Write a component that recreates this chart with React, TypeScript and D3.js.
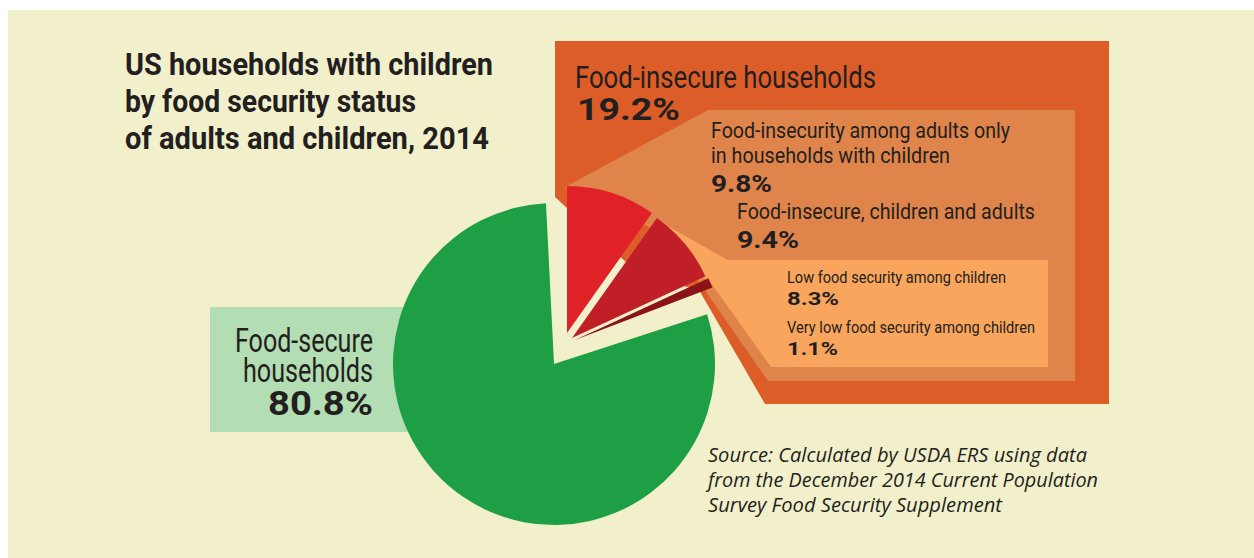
import React from 'react';
import * as d3 from 'd3';

// ---- Data ----
const sliceLabels = [
  'Food-insecurity among adults only',
  'Low food security among children',
  'Very low food security among children',
  'Food-secure households',
];
const sliceValues = [9.8, 8.3, 1.1, 80.8];
const sliceColors = ['#E02128', '#C11F27', '#8C1317', '#1E9E45'];

const titleLines = ['US households with children', 'by food security status', 'of adults and children, 2014'];
const sourceLines = [
  'Source: Calculated by USDA ERS using data',
  'from the December 2014 Current Population',
  'Survey Food Security Supplement',
];
const insecureTotal = '19.2%';
const childAdultTotal = '9.4%';

const fmt = (v: number) => `${v.toFixed(1)}%`;

// ---- Layout ----
const W = 1254;
const H = 558;
const CX = 554;
const CY = 364;
const R_SECURE = 161;
const R_INSECURE = 147;
const explode: [number, number][] = [
  [13, -31],
  [18, -26],
  [21, -24],
  [0, 0],
];

const COND = "'Liberation Sans Narrow', Roboto, 'DejaVu Sans', sans-serif";
const TEXT = '#231F20';

type TP = {
  x: number; y: number; w: number; size: number; weight?: number; italic?: boolean;
  family?: string; children: React.ReactNode;
};
const T = ({ x, y, w, size, weight = 400, italic = false, family = COND, children }: TP) => (
  <text
    x={x}
    y={y}
    textLength={w}
    lengthAdjust="spacingAndGlyphs"
    fontSize={size}
    fontWeight={weight}
    fontStyle={italic ? 'italic' : 'normal'}
    fontFamily={family}
    fill={TEXT}
  >
    {children}
  </text>
);

const poly = (pts: [number, number][]) => pts.map((p) => p.join(',')).join(' ');

export default function App() {
  const pie = d3
    .pie<number>()
    .sort(null)
    .startAngle(0)
    .endAngle(2 * Math.PI)
    .value((d) => d);
  const arcs = pie(sliceValues);
  const arcInsecure = d3.arc<d3.PieArcDatum<number>>().innerRadius(0).outerRadius(R_INSECURE);
  const arcSecure = d3
    .arc<d3.PieArcDatum<number>>()
    .innerRadius(0)
    .outerRadius(R_SECURE)
    .padAngle(0.1);

  const darkPts: [number, number][] = [
    [555, 41], [1109, 41], [1109, 404], [765, 404], [699, 290], [640, 275], [555, 197],
  ];
  const medPts: [number, number][] = [
    [708, 110], [1075, 110], [1075, 381], [768, 381], [702, 286], [655, 230], [565, 187],
  ];
  const lightPts: [number, number][] = [
    [728, 260], [1048, 260], [1048, 367], [771, 367], [711, 283], [670, 250], [655, 219],
  ];

  return (
    <svg
      width={W}
      height={H}
      viewBox={`0 0 ${W} ${H}`}
      style={{ position: 'absolute', left: 0, top: 0, background: '#ffffff' }}
    >
      <rect x={8} y={10} width={W - 8} height={H - 10} fill="#F1F0CB" />

      <polygon points={poly(darkPts)} fill="#DC5D27" />
      <polygon points={poly(medPts)} fill="#DF844A" />
      <polygon points={poly(lightPts)} fill="#F9A55D" />

      <rect x={210} y={307} width={220} height={125} fill="#B3DDB2" />

      {arcs.map((a, i) => {
        const isSecure = i === sliceValues.length - 1;
        const path = isSecure ? arcSecure(a) : arcInsecure(a);
        return (
          <path
            key={sliceLabels[i]}
            d={path || ''}
            fill={sliceColors[i]}
            transform={`translate(${CX + explode[i][0]},${CY + explode[i][1]})`}
          />
        );
      })}

      {titleLines.map((t, i) => (
        <T key={t} x={125} y={75 + i * 37} w={[368, 291, 364][i]} size={32} weight={700}>
          {t}
        </T>
      ))}

      <T x={575} y={88} w={301} size={31}>Food-insecure households</T>
      <T x={577} y={120} w={103} size={32} weight={700}>{insecureTotal}</T>

      <T x={711} y={138} w={299} size={22}>Food-insecurity among adults only</T>
      <T x={711} y={163} w={239} size={22}>in households with children</T>
      <T x={711} y={192} w={61} size={24} weight={700}>{fmt(sliceValues[0])}</T>

      <T x={737} y={219} w={298} size={22}>Food-insecure, children and adults</T>
      <T x={737} y={248} w={62} size={24} weight={700}>{childAdultTotal}</T>

      <T x={787} y={283} w={219} size={17}>{sliceLabels[1]}</T>
      <T x={787} y={305} w={52} size={19} weight={700}>{fmt(sliceValues[1])}</T>
      <T x={787} y={333} w={248} size={17}>{sliceLabels[2]}</T>
      <T x={787} y={355} w={51} size={19} weight={700}>{fmt(sliceValues[2])}</T>

      <T x={235} y={352} w={138} size={33}>Food-secure</T>
      <T x={243} y={382} w={130} size={33}>households</T>
      <T x={268} y={415} w={105} size={33} weight={700}>{fmt(sliceValues[3])}</T>

      {sourceLines.map((t, i) => (
        <T
          key={t}
          x={708}
          y={462 + i * 25}
          w={[379, 390, 294][i]}
          size={20}
          italic
          family="'Open Sans', 'Noto Sans', sans-serif"
        >
          {t}
        </T>
      ))}
    </svg>
  );
}
